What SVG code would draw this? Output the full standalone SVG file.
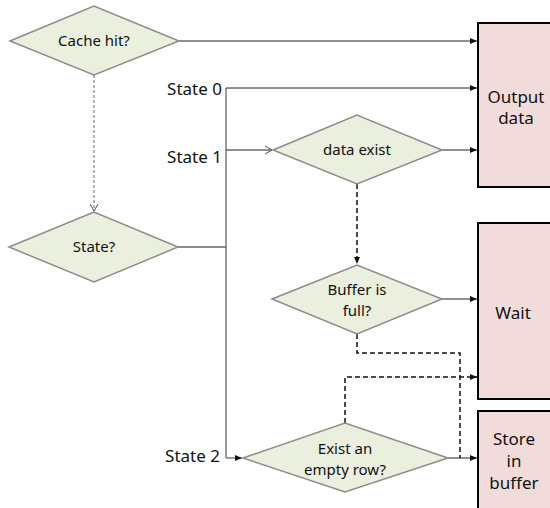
<svg xmlns="http://www.w3.org/2000/svg" width="550" height="508" viewBox="0 0 550 508">
  <style>
    .dec { fill: #ebf0de; stroke: #8c8c8c; stroke-width: 1.5; }
    .box { fill: #f2dcdb; stroke: #000; stroke-width: 2; }
    .t { font-family: "Noto Sans", "Open Sans", sans-serif; font-size: 15px; fill: #111; text-anchor: middle; }
    .lbl { font-family: "Noto Sans", "Open Sans", sans-serif; font-size: 17px; fill: #111; text-anchor: end; }
    .bt { font-family: "Noto Sans", "Open Sans", sans-serif; font-size: 17px; fill: #111; text-anchor: middle; }
    .ln { fill: none; stroke: #222; stroke-width: 1; }
    .gr { fill: none; stroke: #666; stroke-width: 1.3; }
    .dsh { fill: none; stroke: #111; stroke-width: 1.5; stroke-dasharray: 5 3; }
    .dot { fill: none; stroke: #666; stroke-width: 1; stroke-dasharray: 3 2; }
  </style>
  <defs>
    <marker id="ah" markerWidth="8" markerHeight="8" refX="7" refY="4" orient="auto" markerUnits="userSpaceOnUse">
      <path d="M0,1 L7,4 L0,7 Z" fill="#111"/>
    </marker>
    <marker id="oh" markerWidth="10" markerHeight="10" refX="8" refY="5" orient="auto" markerUnits="userSpaceOnUse">
      <path d="M1,1 L8,5 L1,9" fill="none" stroke="#555" stroke-width="1"/>
    </marker>
  </defs>

  <g id="connectors">
    <path class="ln" d="M179,41 H477" marker-end="url(#ah)"/>
    <path class="dot" d="M94,75 V211" marker-end="url(#oh)"/>
    <path class="gr" d="M178,247 H226"/>
    <path class="gr" d="M226,88 V458"/>
    <path class="ln" d="M226,88 H477" marker-end="url(#ah)"/>
    <path class="ln" d="M226,150 H272" marker-end="url(#oh)"/>
    <path class="gr" d="M226,458 H242" marker-end="url(#ah)"/>
    <path class="ln" d="M442,150 H477" marker-end="url(#ah)"/>
    <path class="dsh" d="M357,184 V264" marker-end="url(#ah)"/>
    <path class="ln" d="M442,299 H477" marker-end="url(#ah)"/>
    <path class="dsh" d="M357,334 V353 H460 V458"/>
    <path class="dsh" d="M345,423 V377 H477" marker-end="url(#ah)"/>
    <path class="ln" d="M448,458 H477" marker-end="url(#ah)"/>
  </g>

  <g id="cache-hit">
    <polygon class="dec" points="10,41 94,6 179,41 94,75"/>
    <text class="t" x="94" y="46">Cache hit?</text>
  </g>
  <g id="state">
    <polygon class="dec" points="9,247 94,212 178,247 94,282"/>
    <text class="t" x="94" y="252">State?</text>
  </g>
  <g id="data-exist">
    <polygon class="dec" points="273,150 357,115 442,150 357,184"/>
    <text class="t" x="357" y="155">data exist</text>
  </g>
  <g id="buffer-full">
    <polygon class="dec" points="272,299 357,265 442,299 357,334"/>
    <text class="t" x="357" y="295">Buffer is</text>
    <text class="t" x="357" y="316">full?</text>
  </g>
  <g id="empty-row">
    <polygon class="dec" points="243,458 345,423 448,458 345,492"/>
    <text class="t" x="345" y="454">Exist an</text>
    <text class="t" x="345" y="475">empty row?</text>
  </g>

  <g id="output-data">
    <rect class="box" x="478" y="23" width="80" height="164"/>
    <text class="bt" x="516" y="103">Output</text>
    <text class="bt" x="516" y="124">data</text>
  </g>
  <g id="wait">
    <rect class="box" x="478" y="223" width="80" height="176"/>
    <text class="bt" x="513" y="319">Wait</text>
  </g>
  <g id="store">
    <rect class="box" x="478" y="411" width="80" height="110"/>
    <text class="bt" x="514" y="445">Store</text>
    <text class="bt" x="514" y="467">in</text>
    <text class="bt" x="514" y="489">buffer</text>
  </g>

  <g id="labels">
    <text class="lbl" x="222" y="95">State 0</text>
    <text class="lbl" x="222" y="163">State 1</text>
    <text class="lbl" x="220" y="462">State 2</text>
  </g>
</svg>
